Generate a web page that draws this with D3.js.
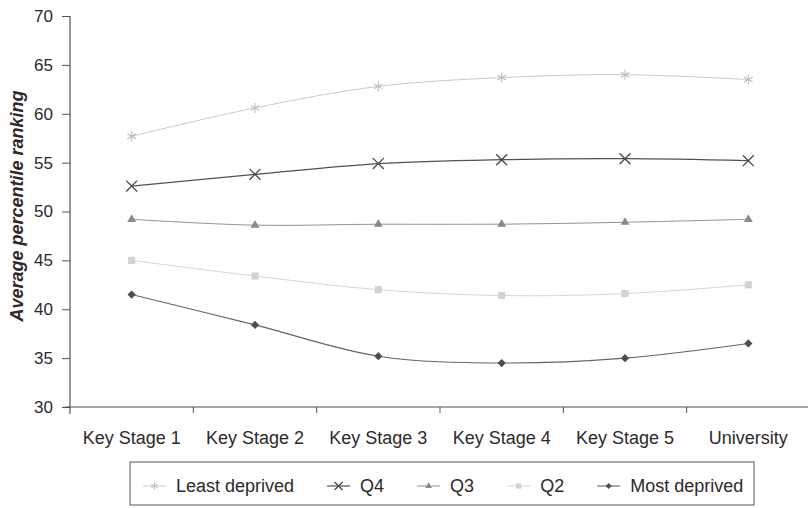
<!DOCTYPE html>
<html>
<head>
<meta charset="utf-8">
<script src="https://cdn.jsdelivr.net/npm/d3@7"></script>
<style>
  html, body { margin: 0; padding: 0; background: #fff; }
  svg { display: block; font-family: "Liberation Sans", Arial, Helvetica, sans-serif; }
</style>
</head>
<body>
<svg id="chart" width="808" height="508"></svg>
<script>
// Education stages along the x axis
const stages = ["Key Stage 1", "Key Stage 2", "Key Stage 3", "Key Stage 4", "Key Stage 5", "University"];

// Average percentile ranking per deprivation group
const leastDeprived = [57.7, 60.6, 62.8, 63.7, 64.0, 63.5];
const q4            = [52.6, 53.8, 54.9, 55.3, 55.4, 55.2];
const q3            = [49.2, 48.6, 48.7, 48.7, 48.9, 49.2];
const q2            = [45.0, 43.4, 42.0, 41.4, 41.6, 42.5];
const mostDeprived  = [41.5, 38.4, 35.2, 34.5, 35.0, 36.5];

// Y axis tick values
const yTicks = [30, 35, 40, 45, 50, 55, 60, 65, 70];

const seriesNames = ["Least deprived", "Q4", "Q3", "Q2", "Most deprived"];
const seriesValues = [leastDeprived, q4, q3, q2, mostDeprived];

// Appearance of each series: line colour, marker type and marker fill
const styles = [
  { line: "#c9c9c9", lw: 1.0, symbol: d3.symbolAsterisk, size: 70, fill: "none", stroke: "#bdbdbd", sw: 1.1, rot: 0 },
  { line: "#555050", lw: 1.2, symbol: d3.symbolX,        size: 80, fill: "none", stroke: "#4d4545", sw: 1.3, rot: 0 },
  { line: "#939393", lw: 1.0, symbol: d3.symbolTriangle, size: 34, fill: "#8a8888", stroke: "none", sw: 0, rot: 0 },
  { line: "#d6d6d6", lw: 1.0, symbol: d3.symbolSquare,   size: 50, fill: "#d2d2d2", stroke: "none", sw: 0, rot: 0 },
  { line: "#6a6262", lw: 1.1, symbol: d3.symbolSquare,   size: 34, fill: "#544a4a", stroke: "none", sw: 0, rot: 45 }
];

const svg = d3.select("#chart");
const textColor = "#2c2a2a";
const axisColor = "#5a4e48";

const x = d3.scaleBand().domain(stages).range([70, 810]);
const y = d3.scaleLinear().domain([30, 70]).range([407, 16]);

// Y axis
const yAxis = svg.append("g")
  .attr("transform", "translate(70,0)")
  .call(d3.axisLeft(y).tickValues(yTicks).tickSize(8).tickPadding(9).tickSizeOuter(0));
yAxis.select(".domain").remove();
yAxis.append("line").attr("x1", 0).attr("x2", 0).attr("y1", 16).attr("y2", 414)
  .attr("stroke", axisColor).attr("stroke-width", 1.2);
yAxis.selectAll(".tick line").attr("stroke", axisColor).attr("stroke-width", 1);
yAxis.selectAll(".tick text").attr("fill", textColor).attr("font-size", 17)
  .attr("font-family", "'Liberation Sans', Arial, sans-serif");

// X axis, ticks at category boundaries
const xAxis = svg.append("g").attr("transform", `translate(0,${y(30)})`);
xAxis.append("line").attr("x1", 65).attr("x2", 808).attr("y1", 0).attr("y2", 0)
  .attr("stroke", axisColor).attr("stroke-width", 1.2);
xAxis.selectAll("line.tk")
  .data(stages)
  .join("line")
  .attr("class", "tk")
  .attr("x1", d => x(d) + x.bandwidth())
  .attr("x2", d => x(d) + x.bandwidth())
  .attr("y1", 0).attr("y2", 6)
  .attr("stroke", axisColor).attr("stroke-width", 1);
xAxis.selectAll("text")
  .data(stages)
  .join("text")
  .attr("x", d => x(d) + x.bandwidth() / 2)
  .attr("y", 37)
  .attr("text-anchor", "middle")
  .attr("font-size", 18)
  .attr("fill", textColor)
  .text(d => d);

// Y axis title
svg.append("text")
  .attr("transform", "translate(23,206) rotate(-90)")
  .attr("text-anchor", "middle")
  .attr("font-size", 18)
  .attr("font-weight", "bold")
  .attr("font-style", "italic")
  .attr("fill", textColor)
  .text("Average percentile ranking");

// Smoothed lines with markers
const line = d3.line()
  .x((d, i) => x(stages[i]) + x.bandwidth() / 2)
  .y(d => y(d))
  .curve(d3.curveCatmullRom.alpha(0.5));

seriesValues.forEach((vals, si) => {
  const st = styles[si];
  svg.append("path")
    .datum(vals)
    .attr("fill", "none")
    .attr("stroke", st.line)
    .attr("stroke-width", st.lw)
    .attr("d", line);
  svg.append("g").selectAll("path")
    .data(vals)
    .join("path")
    .attr("transform", (d, i) => `translate(${x(stages[i]) + x.bandwidth() / 2},${y(d)}) rotate(${st.rot})`)
    .attr("d", d3.symbol().type(st.symbol).size(st.size))
    .attr("fill", st.fill)
    .attr("stroke", st.stroke)
    .attr("stroke-width", st.sw);
});

// Legend
const legend = svg.append("g");
legend.append("rect")
  .attr("x", 130).attr("y", 462).attr("width", 624).attr("height", 43)
  .attr("fill", "none").attr("stroke", "#555").attr("stroke-width", 1);

let lx = 143;
const ly = 486;
seriesNames.forEach((name, si) => {
  const st = styles[si];
  legend.append("line")
    .attr("x1", lx).attr("x2", lx + 23).attr("y1", ly).attr("y2", ly)
    .attr("stroke", st.line).attr("stroke-width", st.lw);
  legend.append("path")
    .attr("transform", `translate(${lx + 11.5},${ly}) rotate(${st.rot})`)
    .attr("d", d3.symbol().type(st.symbol).size(st.size * 0.55))
    .attr("fill", st.fill)
    .attr("stroke", st.stroke)
    .attr("stroke-width", st.sw);
  const t = legend.append("text")
    .attr("x", lx + 33).attr("y", ly + 6)
    .attr("font-size", 18)
    .attr("fill", textColor)
    .text(name);
  lx = lx + 33 + t.node().getComputedTextLength() + 33;
});
</script>
</body>
</html>
